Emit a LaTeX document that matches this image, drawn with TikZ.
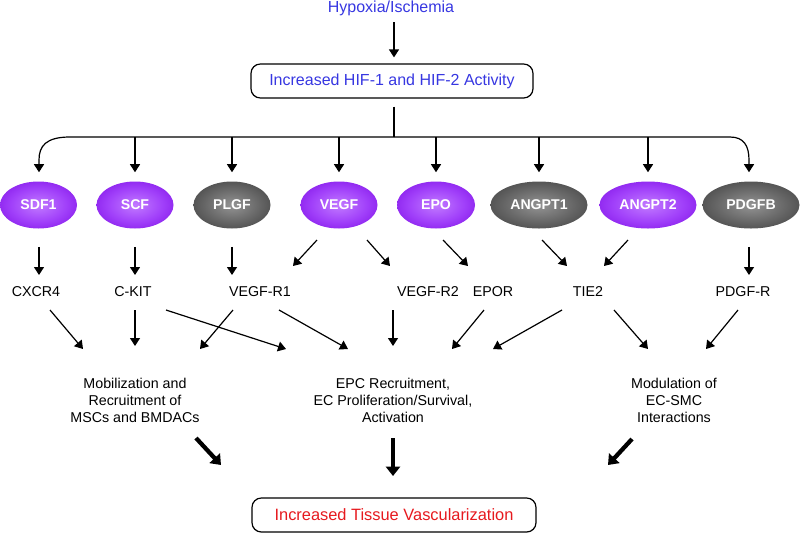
\documentclass[tikz,border=0pt]{standalone}
\usepackage{fontspec}
\setmainfont{Liberation Sans}
\usetikzlibrary{arrows.meta,calc,shapes.geometric}
\definecolor{hypblue}{RGB}{55,55,225}
\definecolor{vred}{RGB}{230,25,30}
\pgfdeclareradialshading{purpleball}{\pgfpoint{0bp}{0bp}}{rgb(0bp)=(0.76,0.48,1); rgb(18bp)=(0.63,0.25,0.98); rgb(38bp)=(0.47,0.02,0.88); rgb(50bp)=(0.40,0,0.78)}
\pgfdeclareradialshading{greyball}{\pgfpoint{0bp}{0bp}}{rgb(0bp)=(0.58,0.58,0.58); rgb(18bp)=(0.40,0.40,0.40); rgb(38bp)=(0.21,0.21,0.21); rgb(50bp)=(0.15,0.15,0.15)}
\tikzset{
  txt/.style={font=\fontsize{10.7pt}{12.7pt}\selectfont, inner sep=1pt, align=center},
  bigtxt/.style={font=\fontsize{12pt}{14pt}\selectfont},
  ballbase/.style={ellipse, inner sep=0pt, minimum height=35.25pt, text=white,
    font=\fontsize{10.6pt}{12pt}\selectfont\bfseries},
  pball/.style={ballbase, shading=purpleball},
  gball/.style={ballbase, shading=greyball},
  small/.style={minimum width=57.75pt},
  big/.style={minimum width=72.75pt},
  rbox/.style={draw, rounded corners=7pt, line width=0.9pt, minimum height=25.5pt},
  arr/.style={line width=0.9pt, -{Triangle[length=6pt,width=7.5pt]}},
  thick arr/.style={line width=3.2pt, -{Triangle[length=7pt,width=10.5pt]}},
  ln/.style={line width=0.9pt}
}
\begin{document}
\begin{tikzpicture}[x=0.75pt,y=-0.75pt]
\useasboundingbox (0,0) rectangle (800,533);
% top
\node[txt, bigtxt, text=hypblue] (hyp) at (391,8) {Hypoxia/Ischemia};
\node[rbox, bigtxt, text=hypblue, minimum width=211.5pt] (hif) at (392,81) {Increased HIF-1 and HIF-2 Activity};
\coordinate (bus) at (394,137);
% ligands
\node[pball, small] (sdf1) at (38.5,205) {SDF1};
\node[pball, small] (scf) at (135,205) {SCF};
\node[gball, small] (plgf) at (232,205) {PLGF};
\node[pball, small] (vegf) at (339,205) {VEGF};
\node[pball, minimum width=58.5pt] (epo) at (436,205) {EPO};
\node[gball, big] (angpt1) at (539,205) {ANGPT1};
\node[pball, big] (angpt2) at (648,205) {ANGPT2};
\node[gball, big] (pdgfb) at (751,205) {PDGFB};
% receptors
\node[txt] (cxcr4) at (36,292) {CXCR4};
\node[txt] (ckit) at (133,292) {C-KIT};
\node[txt] (vr1) at (260,292) {VEGF-R1};
\node[txt] (vr2) at (428,292) {VEGF-R2};
\node[txt] (epor) at (493,292) {EPOR};
\node[txt] (tie2) at (588,292) {TIE2};
\node[txt] (pdgfr) at (743,292) {PDGF-R};
% outcomes
\node[txt] (mob) at (135,400) {Mobilization and\\Recruitment of\\MSCs and BMDACs};
\node[txt] (epc) at (393,400) {EPC Recruitment,\\EC Proliferation/Survival,\\Activation};
\node[txt] (mod) at (674,400) {Modulation of\\EC-SMC\\Interactions};
\node[rbox, font=\fontsize{12.3pt}{14pt}\selectfont, text=vred, minimum width=213pt] (vasc) at (394,515) {Increased Tissue Vascularization};
% top connectors
\draw[arr] ($(hif.north)+(2,-41)$) -- ($(hif.north)+(2,-6)$);
\draw[ln] ($(hif.south)+(2,8)$) -- (bus);
\draw[arr] (bus) -- (70,137) .. controls (46,137) and (39,146) .. (39,160) -- ($(sdf1.north)+(0.5,-9)$);
\draw[arr] (bus) -- (730,137) .. controls (744,137) and (749,146) .. (749,160) -- ($(pdgfb.north)+(-2,-9)$);
\foreach \n in {scf,plgf,vegf,epo,angpt1,angpt2}{
  \draw[arr] (\n.north|-bus) -- ($(\n.north)+(0,-9)$);
}
% ligand -> receptor
\draw[arr] ($(sdf1.south)+(0.5,18)$) -- ($(sdf1.south|-cxcr4)+(0.5,-17)$);
\draw[arr] ($(scf.south)+(0,18)$) -- ($(scf.south|-ckit)+(0,-17)$);
\draw[arr] ($(plgf.south)+(0,18)$) -- ($(plgf.south|-vr1)+(0,-17)$);
\draw[arr] ($(vegf)+(-22,35)$) -- ($(vr1)+(33,-26)$);
\draw[arr] ($(vegf)+(28,35)$) -- ($(vr2)+(-38,-26)$);
\draw[arr] ($(epo)+(7,35)$) -- ($(epor)+(-25,-26)$);
\draw[arr] ($(angpt1)+(3,35)$) -- ($(tie2)+(-21,-26)$);
\draw[arr] ($(angpt2)+(-20,35)$) -- ($(tie2)+(16,-26)$);
\draw[arr] ($(pdgfb.south)+(-2,18)$) -- ($(pdgfr)+(6,-17)$);
% receptor -> outcome
\draw[arr] ($(cxcr4)+(14,18)$) -- ($(mob)+(-52,-51)$);
\draw[arr] ($(ckit)+(2,18)$) -- ($(mob)+(0,-54)$);
\draw[arr] ($(ckit)+(33,18)$) -- ($(epc)+(-107,-51)$);
\draw[arr] ($(vr1)+(-27,18)$) -- ($(mob)+(65,-51)$);
\draw[arr] ($(vr1)+(19,18)$) -- ($(epc)+(-45,-51)$);
\draw[arr] ($(vr2)+(-35,18)$) -- ($(epc)+(0,-54)$);
\draw[arr] ($(epor)+(-9,18)$) -- ($(epc)+(59,-51)$);
\draw[arr] ($(tie2)+(-26,18)$) -- ($(epc)+(100,-51)$);
\draw[arr] ($(tie2)+(26,18)$) -- ($(mod)+(-26,-51)$);
\draw[arr] ($(pdgfr)+(-5,18)$) -- ($(mod)+(32,-51)$);
% outcome -> vascularization
\draw[thick arr] ($(mob)+(61,38)$) -- ($(vasc)+(-173,-50)$);
\draw[thick arr] ($(epc)+(0,38)$) -- ($(vasc)+(-1,-39)$);
\draw[thick arr] ($(mod)+(-42,39)$) -- ($(vasc)+(214,-50)$);
\end{tikzpicture}
\end{document}
